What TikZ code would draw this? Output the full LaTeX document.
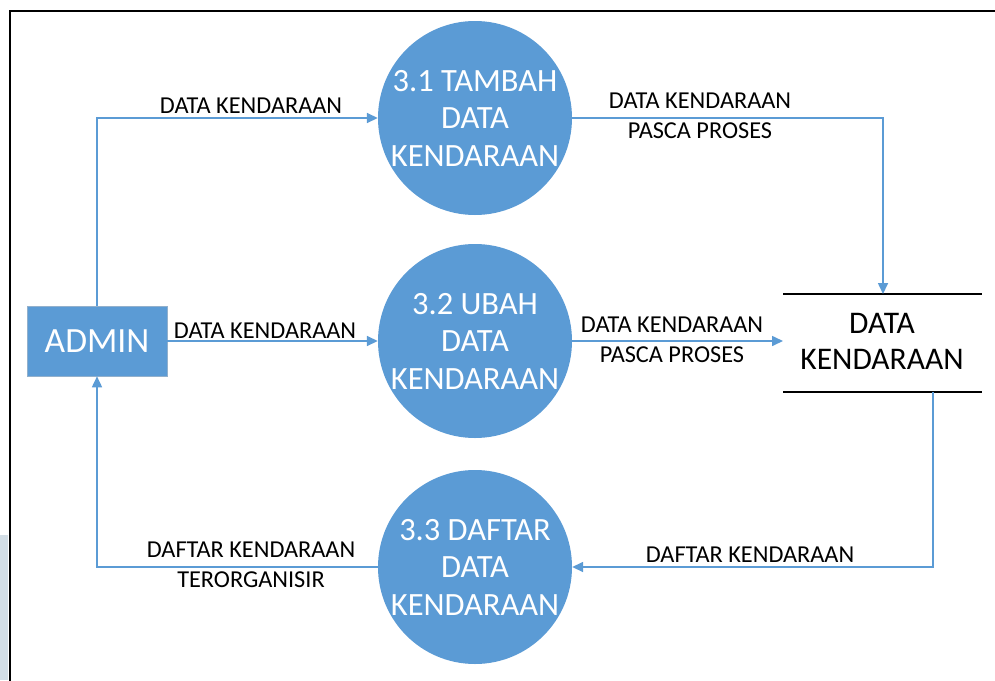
\documentclass[tikz,border=0pt]{standalone}
\usepackage{fontspec}
\setmainfont{Carlito}
\usetikzlibrary{arrows.meta}
\definecolor{procblue}{HTML}{5B9BD5}
\definecolor{edgeblue}{HTML}{5B9BD5}
\definecolor{stripgrey}{HTML}{D3DEE6}
\tikzset{
  process/.style={circle, fill=procblue, draw=none, minimum size=194pt, inner sep=0pt,
    text=white, align=center, font=\fontsize{32.5}{37.5}\selectfont},
  entity/.style={rectangle, fill=procblue, draw=procblue!80!black!60, line width=0.6pt,
    minimum width=140pt, minimum height=70pt, text=white, font=\fontsize{35.5}{40}\selectfont},
  storetext/.style={align=center, font=\fontsize{31.5}{36}\selectfont, text=black},
  flow/.style={draw=edgeblue, line width=1.6pt, -{Triangle[length=11pt,width=10pt]}},
  flowlabel/.style={align=center, font=\fontsize{24.3}{29.5}\selectfont, text=black, inner sep=0pt},
  frameline/.style={draw=black, line width=2.6pt}
}
\begin{document}
\begin{tikzpicture}[x=1pt, y=-1pt]
  \useasboundingbox (0,0) rectangle (995,680);
  \fill[white] (0,0) rectangle (995,680);
  % thin grey strip at the lower left edge
  \fill[stripgrey] (0,535) rectangle (8,680);
  % outer frame (top and left edges)
  \draw[frameline] (10,685) -- (10,11) -- (1000,11);

  % processes
  \node[process] (p1) at (475,118) {3.1 TAMBAH\\DATA\\KENDARAAN};
  \node[process] (p2) at (475,341) {3.2 UBAH\\DATA\\KENDARAAN};
  \node[process] (p3) at (475,567) {3.3 DAFTAR\\DATA\\KENDARAAN};

  % external entity
  \node[entity] (admin) at (97,341) {ADMIN};

  % data store
  \coordinate (dsTL) at (783,294);
  \coordinate (dsTR) at (982,294);
  \coordinate (dsBL) at (783,392);
  \coordinate (dsBR) at (982,392);
  \draw[black, line width=1.6pt] (dsTL) -- (dsTR);
  \draw[black, line width=1.6pt] (dsBL) -- (dsBR);
  \node[storetext] (store) at (882,341) {DATA\\KENDARAAN};
  \coordinate (dsTopIn) at (883,294);
  \coordinate (dsBotOut) at (933,392);
  \coordinate (dsLeft) at (783,341);

  % flows
  \draw[flow] (admin.north) |- (p1.west);
  \draw[flow] (admin.east) -- (p2.west);
  \draw[flow] (p1.east) -| (dsTopIn);
  \draw[flow] (p2.east) -- (dsLeft);
  \draw[flow] (dsBotOut) |- (p3.east);
  \draw[flow] (p3.west) -| (admin.south);

  % flow labels
  \node[flowlabel] (l1) at (251,106) {DATA KENDARAAN};
  \node[flowlabel] (l2) at (265,331) {DATA KENDARAAN};
  \node[flowlabel] (l3) at (700,116) {DATA KENDARAAN\\PASCA PROSES};
  \node[flowlabel] (l4) at (672,340) {DATA KENDARAAN\\PASCA PROSES};
  \node[flowlabel] (l5) at (750,555) {DAFTAR KENDARAAN};
  \node[flowlabel] (l6) at (251,565) {DAFTAR KENDARAAN\\TERORGANISIR};
\end{tikzpicture}
\end{document}
